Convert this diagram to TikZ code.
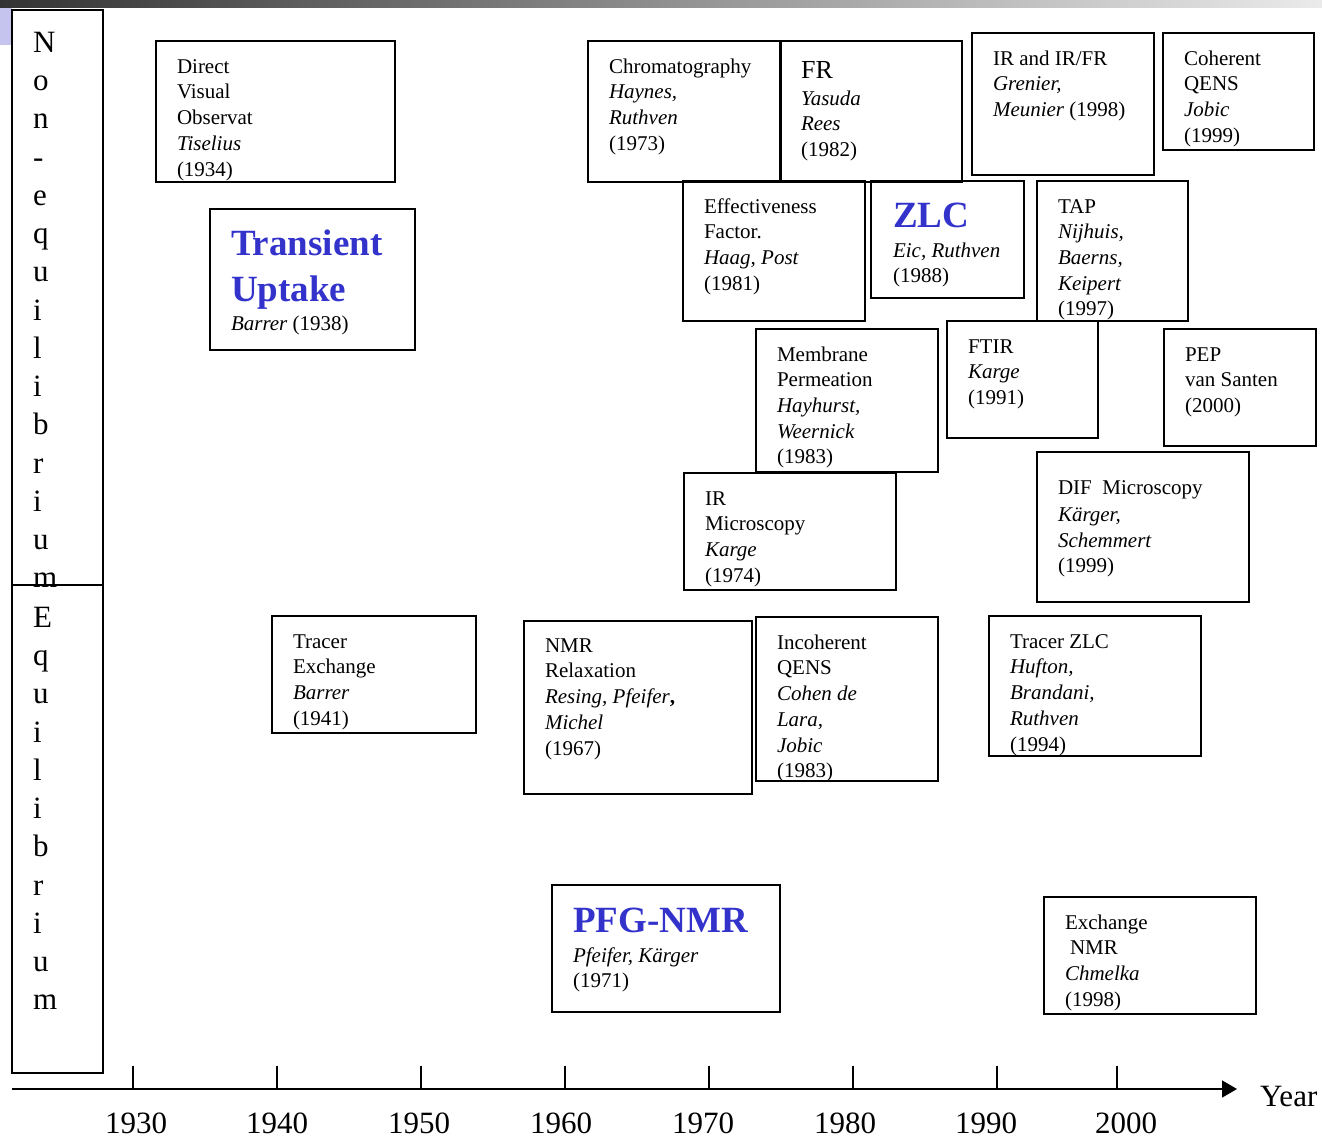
\documentclass[tikz,border=0pt]{standalone}
\usepackage{fontspec}
\setmainfont{Liberation Serif}
\usetikzlibrary{arrows.meta}
\definecolor{ttlblue}{RGB}{51,51,204}
\definecolor{lav}{RGB}{196,196,238}
\newcommand\mybox[5]{\node[box, minimum width=#4pt, minimum height=#5pt] (#1) at (#2,#3) {};}
\begin{document}
\begin{tikzpicture}[x=1pt,y=-1pt,
  box/.style={draw, line width=1.6pt, anchor=north west, inner sep=0pt, outer sep=0pt},
  txt/.style={anchor=north west, inner sep=0pt, outer sep=0pt, align=left, font=\fontsize{21}{25.7}\selectfont},
  ttl/.style={anchor=north west, inner sep=0pt, outer sep=0pt, align=left, font=\fontsize{37}{46}\selectfont\bfseries, text=ttlblue},
  vert/.style={anchor=north west, inner sep=0pt, outer sep=0pt, align=left, font=\fontsize{31}{38.25}\selectfont},
  yr/.style={anchor=base, inner sep=0pt, font=\fontsize{31}{36}\selectfont},
  tick/.style={line width=1.3pt},
  axis/.style={line width=1.6pt, -{Triangle[length=15pt,width=17pt]}}]
\useasboundingbox (0,0) rectangle (1322,1138);
% decoration
\shade[left color=black!80, middle color=black!58, right color=black!8] (0,0) rectangle (1322,7);
\fill[lav] (0,8) rectangle (12,45);
% left category boxes
\mybox{noneq}{12}{10}{91}{575}
\mybox{eq}{12}{585}{91}{488}
\node[vert] (noneqt) at (33,25.6) {\strut N\\o\\n\\-\\e\\q\\u\\i\\l\\i\\b\\r\\i\\u\\m};
\node[vert] (eqt) at (33,600.6) {\strut E\\q\\u\\i\\l\\i\\b\\r\\i\\u\\m};
% boxes
\mybox{dv}{156}{41}{239}{141}
\node[txt] (dvt) at (177,55.3) {\strut Direct\\Visual\\Observat\\\textit{Tiselius}\\(1934)};
\mybox{tu}{210}{209}{205}{141}
\node[ttl] (tuh) at (231,223.3) {\strut Transient\\Uptake};
\node[txt] (tut) at (231,312.2) {\strut\textit{Barrer} (1938)};
\mybox{ch}{588}{41}{193}{141}
\node[txt] (cht) at (609,55.3) {\strut Chromatography\\\textit{Haynes,}\\\textit{Ruthven}\\(1973)};
\mybox{fr}{780}{41}{182}{141}
\node[anchor=base west, inner sep=0pt, font=\fontsize{26}{30}\selectfont] (frh) at (801,78.5) {FR};
\node[txt] (frt) at (801,87.2) {\strut\textit{Yasuda}\\\textit{Rees}\\(1982)};
\mybox{ir}{972}{33}{182}{142}
\node[txt] (irt) at (993,47.2) {\strut IR and IR/FR\\\textit{Grenier,}\\\textit{Meunier} (1998)};
\mybox{coh}{1163}{33}{151}{117}
\node[txt] (coht) at (1184,47.2) {\strut Coherent\\QENS\\\textit{Jobic}\\(1999)};
\mybox{eff}{683}{181}{182}{140}
\node[txt] (efft) at (704,195.2) {\strut Effectiveness\\Factor.\\\textit{Haag, Post}\\(1981)};
\mybox{zlc}{871}{181}{153}{117}
\node[anchor=base west, inner sep=0pt, font=\fontsize{37}{46}\selectfont\bfseries, text=ttlblue] (zlch) at (893,227.5) {ZLC};
\node[txt] (zlct) at (893,239.2) {\strut\textit{Eic, Ruthven}\\(1988)};
\mybox{tap}{1037}{181}{151}{140}
\node[txt] (tapt) at (1058,195.2) {\strut TAP\\\textit{Nijhuis,}\\\textit{Baerns,}\\\textit{Keipert}\\(1997)};
\mybox{mem}{756}{329}{182}{143}
\node[txt] (memt) at (777,343.2) {\strut Membrane\\Permeation\\\textit{Hayhurst,}\\\textit{Weernick}\\(1983)};
\mybox{ftir}{947}{321}{151}{117}
\node[txt] (ftirt) at (968,335.2) {\strut FTIR\\\textit{Karge}\\(1991)};
\mybox{pep}{1164}{329}{152}{117}
\node[txt] (pept) at (1185,343.2) {\strut PEP\\van Santen\\(2000)};
\mybox{irm}{684}{473}{212}{117}
\node[txt] (irmt) at (705,487.2) {\strut IR\\Microscopy\\\textit{Karge}\\(1974)};
\mybox{dif}{1037}{452}{212}{150}
\node[txt] (dift) at (1058,476.2) {\strut DIF\enspace Microscopy\\[1.5pt]\textit{K\"arger,}\\\textit{Schemmert}\\(1999)};
\mybox{trx}{272}{616}{204}{117}
\node[txt] (trxt) at (293,630.2) {\strut Tracer\\Exchange\\\textit{Barrer}\\(1941)};
\mybox{nmr}{524}{621}{228}{173}
\node[txt] (nmrt) at (545,634.2) {\strut NMR\\Relaxation\\\textit{Resing, Pfeifer}\textbf{,}\\\textit{Michel}\\(1967)};
\mybox{inc}{756}{617}{182}{164}
\node[txt] (inct) at (777,631.2) {\strut Incoherent\\QENS\\\textit{Cohen de}\\\textit{Lara,}\\\textit{Jobic}\\(1983)};
\mybox{tzlc}{989}{616}{212}{140}
\node[txt] (tzlct) at (1010,630.2) {\strut Tracer ZLC\\\textit{Hufton,}\\\textit{Brandani,}\\\textit{Ruthven}\\(1994)};
\mybox{pfg}{552}{885}{228}{127}
\node[anchor=base west, inner sep=0pt, font=\fontsize{37}{46}\selectfont\bfseries, text=ttlblue] (pfgh) at (573,932.5) {PFG-NMR};
\node[txt] (pfgt) at (573,944.2) {\strut\textit{Pfeifer, K\"arger}\\(1971)};
\mybox{exn}{1044}{897}{212}{117}
\node[txt] (exnt) at (1065,911.2) {\strut Exchange\\\hspace{5pt}NMR\\\textit{Chmelka}\\(1998)};
% axis
\coordinate (a0) at (12,1089);
\coordinate (a1) at (1237,1089);
\draw[axis] (a0) -- (a1);
\foreach \x/\lx/\y in {133/136/1930, 277/277/1940, 421/419/1950, 565/561/1960, 709/703/1970, 853/845/1980, 997/986/1990, 1117/1126/2000} {
  \coordinate (t\y) at (\x,1089);
  \coordinate (u\y) at (\x,1066);
  \draw[tick] (t\y) -- (u\y);
  \node[yr] (l\y) at (\lx,1133) {\y};
}
\node[anchor=base west, inner sep=0pt, font=\fontsize{31}{36}\selectfont] (year) at (1260,1106) {Year};
\end{tikzpicture}
\end{document}
